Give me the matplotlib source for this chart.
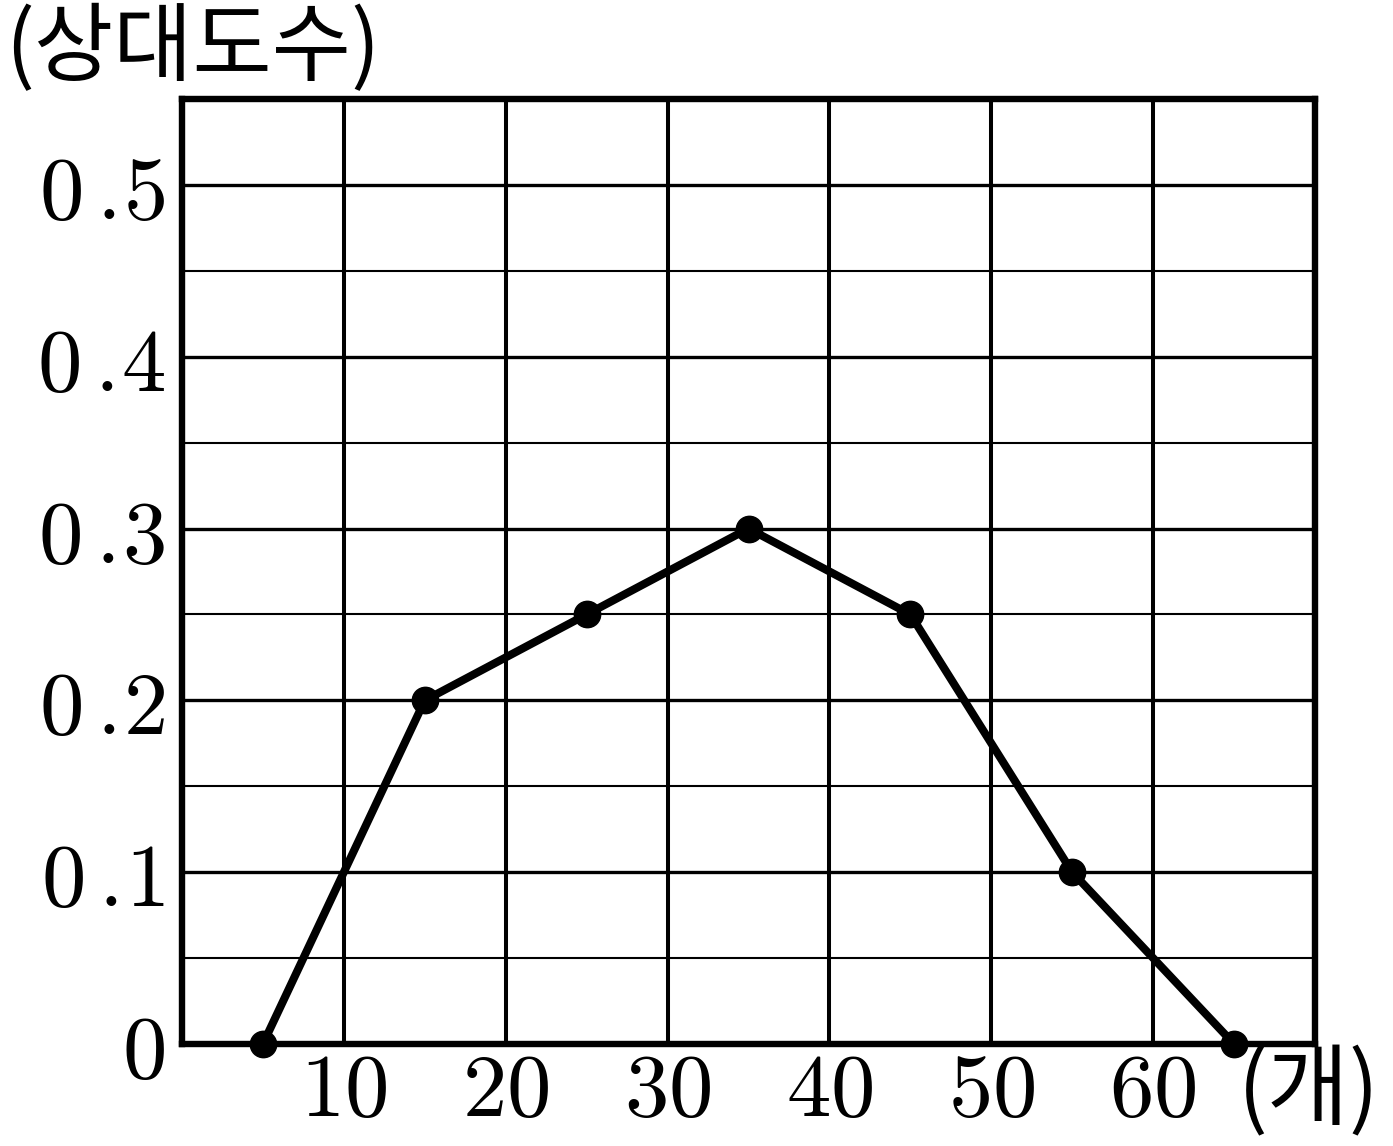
import matplotlib
matplotlib.use("Agg")
import matplotlib.pyplot as plt
import numpy as np

plt.rcParams['mathtext.fontset'] = 'cm'

x_vals = [5, 15, 25, 35, 45, 55, 65]
y_vals = [0, 0.2, 0.25, 0.3, 0.25, 0.1, 0]
x_ticks = [10, 20, 30, 40, 50, 60]
x_tick_labels = ["10", "20", "30", "40", "50", "60"]
y_ticks = [0, 0.1, 0.2, 0.3, 0.4, 0.5]
y_tick_labels = ["0", "0.1", "0.2", "0.3", "0.4", "0.5"]
y_title = "(상대도수)"
x_title = "(개)"

fig = plt.figure(figsize=(13.93, 11.46), dpi=100)
ax = fig.add_axes([182/1393, 102/1146, (1315-182)/1393, (1044-99)/1146])
ax.set_xlim(0, 70)
ax.set_ylim(0, 0.55)

# grid
for xv in x_ticks:
    ax.axvline(xv, color='black', lw=2.9, zorder=1)
for yv in y_ticks[1:]:
    ax.axhline(yv, color='black', lw=2.4, zorder=1)
for yv in np.array(y_ticks[:-1]) + 0.05:
    ax.axhline(yv, color='black', lw=1.5, zorder=1)

ax.plot(x_vals, y_vals, color='black', lw=5.8, marker='o', markersize=19,
        clip_on=False, zorder=5, solid_joinstyle='miter')

for s in ax.spines.values():
    s.set_linewidth(4.6)
    s.set_zorder(4)

ax.set_xticks(x_ticks)
ax.set_xticklabels(["$" + t + "$" for t in x_tick_labels], fontsize=64)
ax.set_yticks(y_ticks)
ax.set_yticklabels(["$" + t.replace(".", r"\,.\!") + "$" for t in y_tick_labels], fontsize=64)
ax.tick_params(length=0)
ax.tick_params(axis='y', pad=12)
ax.tick_params(axis='x', pad=3)

fig.text(5/1393, 1 - 50/1146, y_title, fontsize=62, family=['Noto Sans CJK KR', 'DejaVu Sans'],
         ha='left', va='center')
fig.text(1238/1393, 1 - 1093/1146, x_title, fontsize=64, family=['Noto Sans CJK KR', 'DejaVu Sans'],
         ha='left', va='center')

fig.savefig("out.png", dpi=100)
